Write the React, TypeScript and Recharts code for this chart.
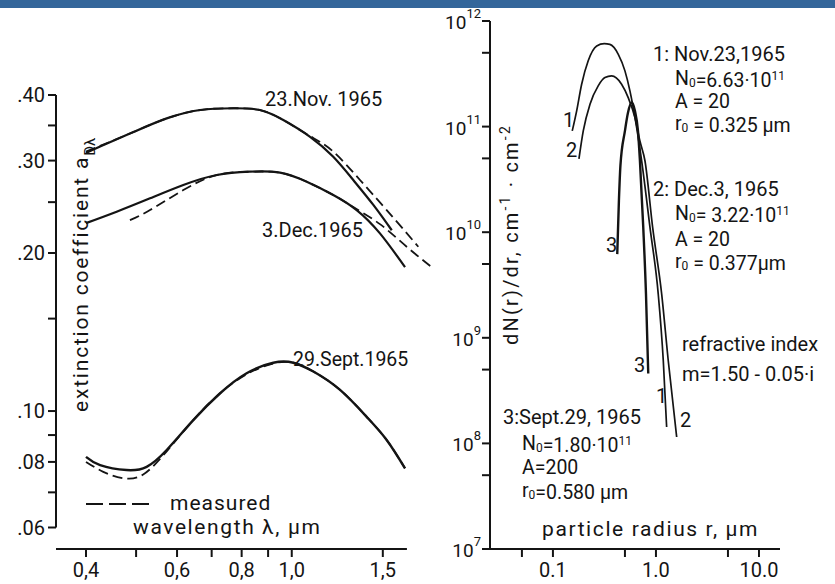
import { LineChart, Line, XAxis, YAxis, ReferenceLine } from "recharts";

// left panel: extinction coefficient vs wavelength (um)
const novFitLambda = [0.4, 0.426, 0.494, 0.573, 0.665, 0.771, 0.868, 0.963, 1.085, 1.203, 1.315, 1.438, 1.561];
const novFitValue = [0.31, 0.319, 0.34, 0.361, 0.3745, 0.3774, 0.3745, 0.3584, 0.333, 0.305, 0.2755, 0.247, 0.221];
const novMeasLambda = [0.4, 0.426, 0.494, 0.573, 0.665, 0.771, 0.868, 0.963, 1.085, 1.203, 1.355, 1.526, 1.757];
const novMeasValue = [0.312, 0.32, 0.34, 0.361, 0.3745, 0.3774, 0.3745, 0.3584, 0.334, 0.312, 0.2755, 0.2415, 0.2056];

const decFitLambda = [0.4, 0.4585, 0.532, 0.617, 0.716, 0.83, 0.949, 1.069, 1.203, 1.335, 1.481, 1.656];
const decFitValue = [0.228, 0.2397, 0.2542, 0.2695, 0.2816, 0.2857, 0.2845, 0.2734, 0.258, 0.2415, 0.218, 0.188];
const decMeasLambda = [0.4865, 0.532, 0.617, 0.716, 0.83, 0.949, 1.069, 1.203, 1.315, 1.481, 1.668, 1.878];
const decMeasValue = [0.231, 0.2415, 0.2636, 0.2816, 0.2857, 0.2845, 0.2734, 0.258, 0.2447, 0.227, 0.2056, 0.187];

const sepFitLambda = [0.4, 0.426, 0.479, 0.524, 0.573, 0.645, 0.726, 0.818, 0.921, 1.007, 1.101, 1.24, 1.396, 1.526, 1.656];
const sepFitValue = [0.0818, 0.0789, 0.0772, 0.0783, 0.0843, 0.0961, 0.108, 0.118, 0.1236, 0.1236, 0.1189, 0.1097, 0.0975, 0.0881, 0.0778];
const sepMeasLambda = [0.4, 0.432, 0.472, 0.516, 0.573, 0.645, 0.726, 0.818, 0.921, 1.007, 1.101, 1.24, 1.396, 1.526, 1.656];
const sepMeasValue = [0.08, 0.0766, 0.0745, 0.0757, 0.0838, 0.0961, 0.108, 0.1175, 0.1232, 0.1236, 0.1189, 0.1097, 0.0975, 0.0881, 0.0778];

const lambdaTicks = [0.4, 0.5, 0.6, 0.7, 0.8, 0.9, 1.0, 1.5];
const lambdaLabels = ["0,4", "", "0,6", "", "0,8", "", "1,0", "1,5"];
const extTicks = [0.06, 0.07, 0.08, 0.09, 0.1, 0.15, 0.2, 0.25, 0.3, 0.35, 0.4];
const extLabels = [".06", "", ".08", "", ".10", "", ".20", "", ".30", "", ".40"];

// right panel: size distributions dN/dr vs radius (um)
const nov23Radius = [0.154, 0.17, 0.19, 0.22, 0.266, 0.315, 0.357, 0.431, 0.5, 0.559, 0.602, 0.726, 0.875, 1.052, 1.178, 1.27];
const nov23Count = [9.1e10, 1.41e11, 2.52e11, 4.2e11, 5.8e11, 6.1e11, 6.0e11, 4.84e11, 3.37e11, 2.18e11, 1.51e11, 4.75e10, 1.11e10, 2.61e9, 6.1e8, 1.43e8];
const dec3Radius = [0.179, 0.197, 0.229, 0.275, 0.32, 0.371, 0.464, 0.538, 0.625, 0.699, 0.782, 0.929, 1.136, 1.316, 1.589];
const dec3Count = [4.96e10, 9.1e10, 1.63e11, 2.43e11, 2.91e11, 3.02e11, 2.52e11, 1.88e11, 1.22e11, 7.3e10, 4.75e10, 1.11e10, 2.61e9, 6.1e8, 1.15e8];
const sep29Radius = [0.421, 0.437, 0.452, 0.5, 0.535, 0.581, 0.625, 0.669, 0.699, 0.753, 0.8, 0.842];
const sep29Count = [6.2e9, 1.99e10, 4.27e10, 9.1e10, 1.35e11, 1.69e11, 1.41e11, 9.1e10, 4.75e10, 1.11e10, 2.63e9, 4.6e8];

const radiusTicks = [0.05, 0.1, 0.5, 1, 5, 10];
const radiusLabels = ["", "0.1", "", "1.0", "", "10.0"];
const countTicks = [1e7, 5e7, 1e8, 5e8, 1e9, 5e9, 1e10, 5e10, 1e11, 5e11, 1e12];

const FONT = "Roboto, 'DejaVu Sans', sans-serif";
const INK = "#141414";

const zip = (xs: number[], ys: number[]) => xs.map((x, i) => ({ x, y: ys[i] }));

const labelOf = (ticks: number[], labels: string[]) => (v: number) => {
  const i = ticks.findIndex((t) => Math.abs(t - v) < 1e-9 * Math.max(1, t));
  return i >= 0 ? labels[i] : "";
};

const PowerTick = (props: any) => {
  const { x, y, payload } = props;
  const e = Math.log10(payload.value);
  if (Math.abs(e - Math.round(e)) > 1e-6) return null;
  return (
    <text x={x} y={y} textAnchor="end" fill={INK} fontFamily={FONT}>
      <tspan fontSize={19} dy={8}>10</tspan>
      <tspan fontSize={13} dy={-11}>{Math.round(e)}</tspan>
    </text>
  );
};

const LAMBDA_MIN = 0.35;
const EXT_MIN = 0.0546;
const tickFont = { fontSize: 20, fill: INK, fontFamily: FONT };

const ExtinctionChart = () => (
  <LineChart width={445} height={584} margin={{ top: 95, right: 5, bottom: 5, left: 0 }}>
    <XAxis
      type="number"
      dataKey="x"
      scale="log"
      domain={[LAMBDA_MIN, 1.935]}
      allowDataOverflow
      ticks={lambdaTicks}
      interval={0}
      tickFormatter={labelOf(lambdaTicks, lambdaLabels)}
      axisLine={false}
      tickLine={{ stroke: INK, strokeWidth: 2 }}
      tickSize={8}
      tickMargin={6}
      height={30}
      tick={tickFont}
    />
    <YAxis
      type="number"
      dataKey="y"
      scale="log"
      domain={[EXT_MIN, 0.4]}
      allowDataOverflow
      ticks={extTicks}
      interval={0}
      tickFormatter={labelOf(extTicks, extLabels)}
      axisLine={false}
      tickLine={{ stroke: INK, strokeWidth: 2 }}
      tickSize={8}
      tickMargin={3}
      width={56}
      tick={tickFont}
    />
    <ReferenceLine segment={[{ x: LAMBDA_MIN, y: 0.06 }, { x: LAMBDA_MIN, y: 0.4 }]} stroke={INK} strokeWidth={2} />
    <ReferenceLine segment={[{ x: LAMBDA_MIN, y: EXT_MIN }, { x: 1.67, y: EXT_MIN }]} stroke={INK} strokeWidth={2} />
    <Line data={zip(novMeasLambda, novMeasValue)} dataKey="y" type="natural" stroke={INK} strokeWidth={1.8} strokeDasharray="10 5" dot={false} isAnimationActive={false} />
    <Line data={zip(decMeasLambda, decMeasValue)} dataKey="y" type="natural" stroke={INK} strokeWidth={1.8} strokeDasharray="10 5" dot={false} isAnimationActive={false} />
    <Line data={zip(sepMeasLambda, sepMeasValue)} dataKey="y" type="natural" stroke={INK} strokeWidth={1.8} strokeDasharray="10 5" dot={false} isAnimationActive={false} />
    <Line data={zip(novFitLambda, novFitValue)} dataKey="y" type="natural" stroke={INK} strokeWidth={2.2} dot={false} isAnimationActive={false} />
    <Line data={zip(decFitLambda, decFitValue)} dataKey="y" type="natural" stroke={INK} strokeWidth={2.2} dot={false} isAnimationActive={false} />
    <Line data={zip(sepFitLambda, sepFitValue)} dataKey="y" type="natural" stroke={INK} strokeWidth={2.4} dot={false} isAnimationActive={false} />
  </LineChart>
);

const DistributionChart = () => (
  <LineChart width={390} height={584} margin={{ top: 21, right: 55, bottom: 5, left: 0 }}>
    <XAxis
      type="number"
      dataKey="x"
      scale="log"
      domain={[0.0245, 16]}
      allowDataOverflow
      ticks={radiusTicks}
      interval={0}
      tickFormatter={labelOf(radiusTicks, radiusLabels)}
      axisLine={{ stroke: INK, strokeWidth: 2 }}
      tickLine={{ stroke: INK, strokeWidth: 2 }}
      tickSize={8}
      tickMargin={6}
      height={30}
      tick={tickFont}
    />
    <YAxis
      type="number"
      dataKey="y"
      scale="log"
      domain={[1e7, 1e12]}
      allowDataOverflow
      ticks={countTicks}
      interval={0}
      axisLine={{ stroke: INK, strokeWidth: 2 }}
      tickLine={{ stroke: INK, strokeWidth: 2 }}
      tickSize={8}
      tickMargin={1}
      width={45}
      tick={<PowerTick />}
    />
    <Line data={zip(nov23Radius, nov23Count)} dataKey="y" type="monotone" stroke={INK} strokeWidth={1.7} dot={false} isAnimationActive={false} />
    <Line data={zip(dec3Radius, dec3Count)} dataKey="y" type="monotone" stroke={INK} strokeWidth={1.7} dot={false} isAnimationActive={false} />
    <Line data={zip(sep29Radius, sep29Count)} dataKey="y" type="monotone" stroke={INK} strokeWidth={2.4} dot={false} isAnimationActive={false} />
  </LineChart>
);

const T = (p: any) => <text fill={INK} fontFamily={FONT} fontSize={20} {...p} />;

const Sub = ({ c }: { c: string }) => (
  <>
    <tspan fontSize={12} dy={2}>{c}</tspan>
    <tspan dy={-2}></tspan>
  </>
);

const Annotations = () => (
  <svg width={835} height={584} style={{ position: "absolute", left: 0, top: 0, pointerEvents: "none" }}>
    {/* left panel */}
    <T x={265} y={106}>23.Nov. 1965</T>
    <T x={262} y={237}>3.Dec.1965</T>
    <T x={293} y={366} fontSize={19.5}>29.Sept.1965</T>
    <line x1={86} y1={504} x2={155} y2={504} stroke={INK} strokeWidth={1.8} strokeDasharray="17 6" />
    <T x={170} y={510} fontSize={21} letterSpacing={1}>measured</T>
    <T x={133} y={534} fontSize={21} letterSpacing={1.6}>wavelength λ, μm</T>
    <T x={88} y={412} fontSize={21} letterSpacing={1.8} transform="rotate(-90 88 412)">
      extinction coefficient a<tspan fontSize={15} dy={7} letterSpacing={0}>Dλ</tspan>
    </T>
    {/* right panel */}
    <T x={518} y={345} letterSpacing={2.2} transform="rotate(-90 518 345)">
      dN(r)/dr, cm<tspan fontSize={14} dy={-8}>-1</tspan>
      <tspan dy={8}> · cm</tspan>
      <tspan fontSize={14} dy={-8}>-2</tspan>
    </T>
    <T x={653} y={61}>1: Nov.23,1965</T>
    <T x={675} y={85} fontSize={19.5}>N<Sub c="0" />=6.63·10<tspan fontSize={12} dy={-7}>11</tspan></T>
    <T x={675} y={108} fontSize={19.5}>A = 20</T>
    <T x={675} y={130} fontSize={19.5}>r<Sub c="0" /> = 0.325 μm</T>
    <T x={653} y={196}>2: Dec.3, 1965</T>
    <T x={675} y={220} fontSize={19.5}>N<Sub c="0" />= 3.22·10<tspan fontSize={12} dy={-7}>11</tspan></T>
    <T x={675} y={246} fontSize={19.5}>A = 20</T>
    <T x={675} y={268} fontSize={19.5}>r<Sub c="0" /> = 0.377μm</T>
    <T x={682} y={351}>refractive index</T>
    <T x={682} y={381}>m=1.50 - 0.05·i</T>
    <T x={503} y={424}>3:Sept.29, 1965</T>
    <T x={522} y={450} fontSize={19.5}>N<Sub c="0" />=1.80·10<tspan fontSize={12} dy={-7}>11</tspan></T>
    <T x={522} y={474} fontSize={19.5}>A=200</T>
    <T x={522} y={497} fontSize={19.5}>r<Sub c="0" />=0.580 μm</T>
    <T x={542} y={536} fontSize={21} letterSpacing={1.6}>particle radius r, μm</T>
    <T x={563} y={127}>1</T>
    <T x={566} y={157}>2</T>
    <T x={606} y={252}>3</T>
    <T x={634} y={372}>3</T>
    <T x={656} y={403}>1</T>
    <T x={680} y={427}>2</T>
  </svg>
);

export default function App() {
  return (
    <div style={{ position: "absolute", left: 0, top: 0, width: 835, height: 584, background: "#fff", overflow: "hidden" }}>
      <div style={{ position: "absolute", left: 0, top: 0, width: 835, height: 8, background: "#34669a" }} />
      <div style={{ position: "absolute", left: 0, top: 0 }}>
        <ExtinctionChart />
      </div>
      <div style={{ position: "absolute", left: 445, top: 0 }}>
        <DistributionChart />
      </div>
      <Annotations />
    </div>
  );
}
